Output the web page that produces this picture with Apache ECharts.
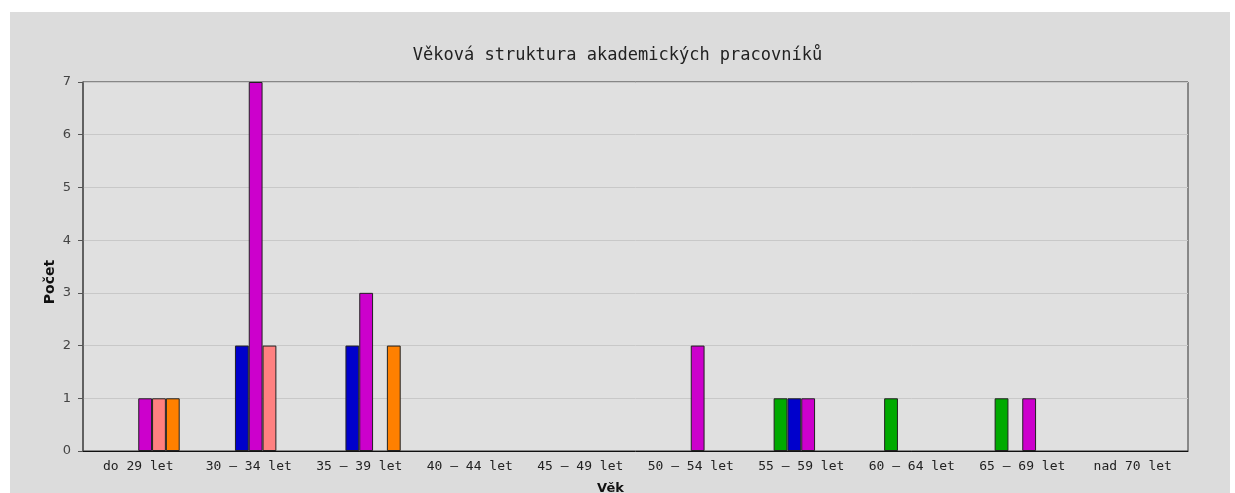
<!DOCTYPE html>
<html>
<head>
<meta charset="utf-8">
<script src="https://cdn.jsdelivr.net/npm/echarts@6/dist/echarts.min.js"></script>
<style>
html,body{margin:0;padding:0;background:#fff;}
#c{width:1235px;height:493px;}
</style>
</head>
<body>
<div id="c"></div>
<script>
const categories = ['do 29 let','30 – 34 let','35 – 39 let','40 – 44 let','45 – 49 let','50 – 54 let','55 – 59 let','60 – 64 let','65 – 69 let','nad 70 let'];
const yTicks = [0,1,2,3,4,5,6,7];
const seriesNames = ['Skupina 1','Skupina 2','Skupina 3','Skupina 4','Skupina 5','Skupina 6'];
const seriesColors = [null,'#00aa00','#0000cc','#cc00cc','#ff8080','#ff8000'];
const s1 = [null,null,null,null,null,null,null,null,null,null];
const s2 = [null,null,null,null,null,null,1,1,1,null];
const s3 = [null,2,2,null,null,null,1,null,null,null];
const s4 = [1,7,3,null,null,2,1,null,1,null];
const s5 = [1,2,null,null,null,null,null,null,null,null];
const s6 = [1,null,2,null,null,null,null,null,null,null];
const seriesData = [s1,s2,s3,s4,s5,s6];

const chart = echarts.init(document.getElementById('c'), null, {renderer:'canvas'});
chart.setOption({
  backgroundColor:'#ffffff',
  animation:false,
  graphic:[{type:'rect',z:-10,shape:{x:10,y:12,width:1220,height:490},style:{fill:'#dcdcdc'},silent:true}],
  title:{text:'Věková struktura akademických pracovníků',left:'center',top:42,padding:[5,15,5,5],
    textStyle:{fontFamily:'DejaVu Sans Mono',fontSize:17,fontWeight:'normal',color:'#222'}},
  grid:{left:83,right:47,top:82,bottom:42,show:true,backgroundColor:'#e0e0e0',borderColor:'#333',borderWidth:1,
    containLabel:false,outerBoundsMode:'none'},
  xAxis:{type:'category',data:categories,
    name:'Věk',nameLocation:'middle',nameGap:31,nameMoveOverlap:false,
    nameTextStyle:{fontFamily:'DejaVu Sans',fontWeight:'bold',fontSize:13,color:'#111',padding:[0,50,0,0]},
    axisLine:{lineStyle:{color:'#111',width:1}},
    axisTick:{alignWithLabel:true,length:5,lineStyle:{color:'#222'}},
    axisLabel:{fontFamily:'DejaVu Sans Mono',fontSize:13,color:'#222',margin:9,interval:0},
    splitLine:{show:false}},
  yAxis:{type:'value',min:0,max:7,interval:1,
    name:'Počet',nameLocation:'middle',nameGap:26,nameMoveOverlap:false,
    nameTextStyle:{fontFamily:'DejaVu Sans',fontWeight:'bold',fontSize:14,color:'#111',padding:[0,31,0,0]},
    axisLine:{show:true,lineStyle:{color:'#555',width:1.5}},
    axisTick:{show:true,length:5,lineStyle:{color:'#555'}},
    axisLabel:{fontFamily:'DejaVu Sans',fontSize:13,color:'#444',margin:12,
      formatter:function(v){return yTicks.indexOf(v)>=0?String(v):'';}},
    splitLine:{show:true,lineStyle:{color:'#c8c8c8',width:1}}},
  series:seriesData.map(function(d,i){return {
    name:seriesNames[i],type:'bar',data:d,barGap:'0%',barCategoryGap:'25%',
    itemStyle:{color:seriesColors[i]||'#888',borderColor:'#222',borderWidth:1}
  };})
});
</script>
</body>
</html>
